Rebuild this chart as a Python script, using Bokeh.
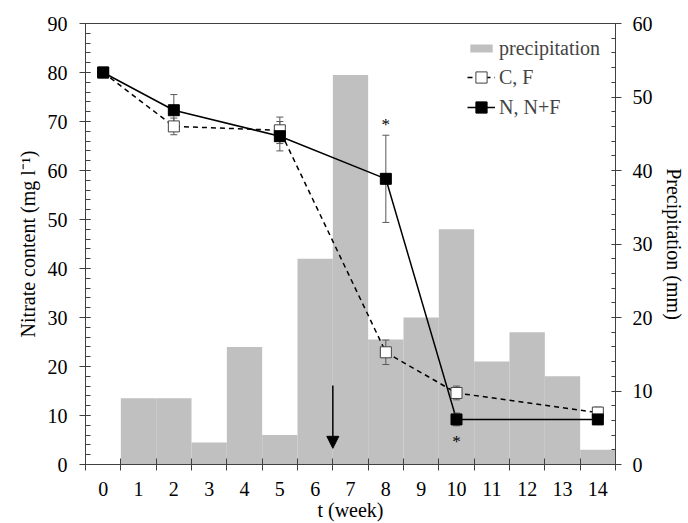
from bokeh.plotting import figure
from bokeh.models import (Range1d, LinearAxis, FixedTicker, Arrow, NormalHead,
                          Legend, LegendItem)
from bokeh.core.properties import value
from bokeh.embed import file_html
from bokeh.resources import INLINE

# ---------------- data ----------------
weeks = list(range(15))
week_labels = [str(w) for w in weeks]
precip_mm = [0, 9, 9, 3, 16, 4, 28, 53, 17, 20, 32, 14, 18, 12, 2]

sample_weeks = [0, 2, 5, 8, 10, 14]
cf_mean = [80.0, 69.0, 68.2, 22.9, 14.6, 10.6]
cf_err = [0.0, 1.7, 2.7, 2.5, 1.4, 1.1]
n_mean = [80.0, 72.3, 67.0, 58.3, 9.2, 9.2]
n_err = [0.0, 3.2, 3.0, 8.9, 1.3, 0.4]

star_weeks = [8, 10]
star_nitrate = [69.3, 4.7]

arrow_week = 6.5
arrow_from = 16.1
arrow_to = 3.3

nitrate_ticks = list(range(0, 91, 10))
nitrate_minor = list(range(0, 91, 2))
precip_ticks = list(range(0, 61, 10))
precip_minor = list(range(0, 61, 2))

# ---------------- layout ----------------
W, H = 688, 523
FL, FR, FT, FB = 85, 615, 23, 464          # frame edges in canvas pixels

FONT = "Liberation Serif"
AX = "#404040"
BAR = "#c0c0c0"

p = figure(width=W, height=H, output_backend="svg", toolbar_location=None,
           x_range=Range1d(-0.5, 14.5), y_range=Range1d(0, 90),
           min_border_left=FL, min_border_right=W - FR, min_border_top=FT,
           min_border_bottom=H - FB)
p.extra_y_ranges = {"precip": Range1d(0, 60)}
p.xgrid.visible = False
p.ygrid.visible = False
p.outline_line_color = AX
p.outline_line_width = 1

# x axis
xa = p.xaxis[0]
xa.ticker = FixedTicker(ticks=weeks, minor_ticks=[w - 0.5 for w in weeks] + [weeks[-1] + 0.5])
xa.major_label_overrides = {w: lbl for w, lbl in zip(weeks, week_labels)}
xa.major_tick_in = 0
xa.major_tick_out = 0
xa.minor_tick_in = 6
xa.minor_tick_out = 6
xa.major_label_standoff = 11
xa.axis_label = "t (week)"
xa.axis_label_standoff = 0

# left y axis
ya = p.yaxis[0]
ya.ticker = FixedTicker(ticks=nitrate_ticks, minor_ticks=nitrate_minor)
ya.major_tick_in = 5
ya.major_tick_out = 6
ya.minor_tick_in = 5
ya.minor_tick_out = 0
ya.major_label_standoff = 12
ya.axis_label = "Nitrate content (mg l\u207b\u00b9)"
ya.axis_label_standoff = 6

# right y axis
ra = LinearAxis(y_range_name="precip",
                ticker=FixedTicker(ticks=precip_ticks, minor_ticks=precip_minor))
ra.major_tick_in = 0
ra.major_tick_out = 6
ra.minor_tick_in = 4
ra.minor_tick_out = 0
ra.major_label_standoff = 11
ra.axis_label = "Precipitation (mm)"
ra.axis_label_standoff = 7
p.add_layout(ra, "right")

for ax in (xa, ya, ra):
    ax.axis_line_color = AX
    ax.major_tick_line_color = AX
    ax.minor_tick_line_color = AX
    ax.major_label_text_font = FONT
    ax.major_label_text_font_size = "20px"
    ax.major_label_text_color = "black"
    ax.axis_label_text_font = FONT
    ax.axis_label_text_font_size = "20px"
    ax.axis_label_text_font_style = "normal"
    ax.axis_label_text_color = "black"

# precipitation bars
bars = p.vbar(x=weeks, top=precip_mm, bottom=0, width=1, y_range_name="precip",
              fill_color=BAR, line_color=None)

# C, F series
cf_line = p.line(sample_weeks, cf_mean, line_color="black", line_width=1.5, line_dash="5 4")
cf_lo = [m - e for m, e in zip(cf_mean, cf_err)]
cf_hi = [m + e for m, e in zip(cf_mean, cf_err)]
p.segment(x0=sample_weeks, y0=cf_lo, x1=sample_weeks, y1=cf_hi, line_color="#595959", line_width=1)
p.scatter(sample_weeks, cf_lo, marker="dash", size=7, line_color="#595959", line_width=1)
p.scatter(sample_weeks, cf_hi, marker="dash", size=7, line_color="#595959", line_width=1)

# N, N+F series
n_line = p.line(sample_weeks, n_mean, line_color="black", line_width=1.5)
n_lo = [m - e for m, e in zip(n_mean, n_err)]
n_hi = [m + e for m, e in zip(n_mean, n_err)]
p.segment(x0=sample_weeks, y0=n_lo, x1=sample_weeks, y1=n_hi, line_color="#595959", line_width=1)
p.scatter(sample_weeks, n_lo, marker="dash", size=7, line_color="#595959", line_width=1)
p.scatter(sample_weeks, n_hi, marker="dash", size=7, line_color="#595959", line_width=1)

cf_pts = p.scatter(sample_weeks, cf_mean, marker="square", size=11,
                   fill_color="white", line_color=AX, line_width=1)
n_pts = p.scatter(sample_weeks, n_mean, marker="square", size=11,
                  fill_color="black", line_color="black", line_width=1)

# significance stars
p.text(x=star_weeks, y=star_nitrate, text=["*"] * len(star_weeks),
       text_font=value(FONT), text_font_size="17px", text_align="center",
       text_baseline="middle", text_color="black")

# arrow
p.add_layout(Arrow(x_start=arrow_week, y_start=arrow_from, x_end=arrow_week, y_end=arrow_to,
                   line_color="black", line_width=1.5,
                   end=NormalHead(size=12, fill_color="black", line_color="black")))

# legends (two, so that bar swatch and line+marker swatches get their own heights)
common = dict(padding=0, margin=0, border_line_color=None, background_fill_alpha=0,
              glyph_width=28, label_standoff=4, label_text_font=FONT,
              label_text_font_size="20px")
leg_bar = Legend(items=[LegendItem(label="precipitation", renderers=[bars])],
                 location=(467 - FL, FB - 60), glyph_height=10, label_height=24,
                 spacing=0, **common)
leg_lines = Legend(items=[LegendItem(label="C, F", renderers=[cf_line, cf_pts]),
                          LegendItem(label="N, N+F", renderers=[n_line, n_pts])],
                   location=(467 - FL, FB - 122), glyph_height=30, label_height=24,
                   spacing=0, **common)
p.add_layout(leg_bar)
p.add_layout(leg_lines)

open("out.html", "w").write(file_html(p, INLINE))
